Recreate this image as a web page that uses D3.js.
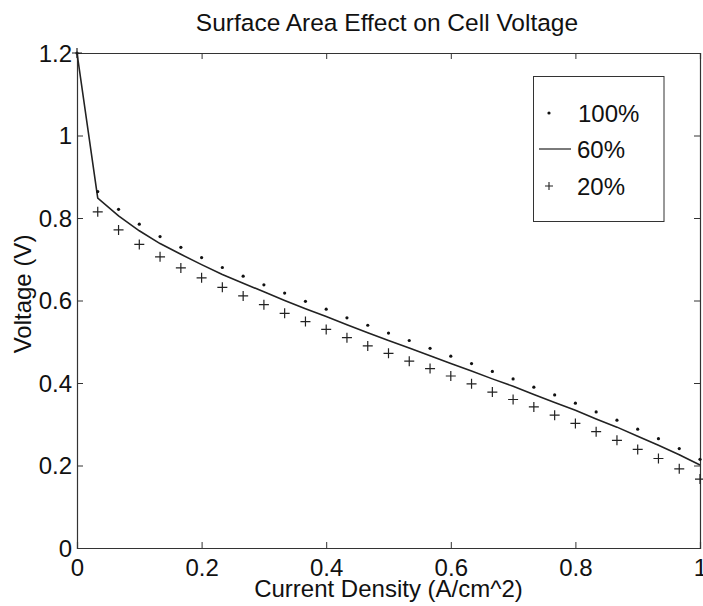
<!DOCTYPE html>
<html>
<head>
<meta charset="utf-8">
<script src="https://cdn.jsdelivr.net/npm/d3@7"></script>
<style>
  body { margin: 0; background: #fff; }
  text { font-family: "Liberation Sans", Arial, sans-serif; fill: #111; }
</style>
</head>
<body>
<script>
// current density (A/cm^2), 31 samples
var density = [0, 0.0333, 0.0667, 0.1, 0.1333, 0.1667, 0.2, 0.2333, 0.2667, 0.3, 0.3333,
    0.3667, 0.4, 0.4333, 0.4667, 0.5, 0.5333, 0.5667, 0.6, 0.6333, 0.6667,
    0.7, 0.7333, 0.7667, 0.8, 0.8333, 0.8667, 0.9, 0.9333, 0.9667, 1];

var v100 = [1.2, 0.864, 0.821, 0.785, 0.755, 0.729, 0.704, 0.680, 0.659, 0.638, 0.618,
    0.598, 0.579, 0.558, 0.540, 0.521, 0.503, 0.484, 0.465, 0.447, 0.428,
    0.410, 0.390, 0.371, 0.351, 0.330, 0.310, 0.288, 0.265, 0.241, 0.215];

var v60 = [1.2, 0.848, 0.805, 0.769, 0.738, 0.712, 0.687, 0.663, 0.642, 0.621, 0.600,
    0.580, 0.561, 0.541, 0.522, 0.503, 0.485, 0.466, 0.447, 0.429, 0.410,
    0.392, 0.372, 0.353, 0.334, 0.313, 0.293, 0.271, 0.249, 0.226, 0.201];

var v20 = [1.2, 0.815, 0.771, 0.736, 0.706, 0.679, 0.655, 0.632, 0.611, 0.590, 0.569,
    0.549, 0.530, 0.510, 0.490, 0.472, 0.453, 0.435, 0.417, 0.398, 0.378,
    0.360, 0.342, 0.322, 0.302, 0.282, 0.261, 0.239, 0.217, 0.192, 0.167];

var xTicks = [0, 0.2, 0.4, 0.6, 0.8, 1];
var yTicks = [0, 0.2, 0.4, 0.6, 0.8, 1, 1.2];
var legendLabels = ["100%", "60%", "20%"];

var margin = {top: 53, right: 3, bottom: 58, left: 77};
var width = 703 - margin.left - margin.right;
var height = 606 - margin.top - margin.bottom;

var svgRoot = d3.select("body")
    .append("svg")
    .attr("width", 703)
    .attr("height", 606);

var svg = svgRoot.append("g")
    .attr("transform", "translate(" + margin.left + "," + margin.top + ")");

var x = d3.scaleLinear().domain([0, 1]).range([0, width]);
var y = d3.scaleLinear().domain([0, 1.2]).range([height, 0]);

var fmt = function (d) { return d3.format("")(+d.toFixed(1)); };

// bottom axis (ticks inward)
var xAxis = svg.append("g")
    .attr("transform", "translate(0," + height + ")")
    .call(d3.axisBottom(x).tickValues(xTicks).tickSize(-6).tickPadding(11).tickFormat(fmt));
// left axis
var yAxis = svg.append("g")
    .call(d3.axisLeft(y).tickValues(yTicks).tickSize(-6).tickPadding(5).tickFormat(fmt));
// top and right ticks
svg.append("g")
    .call(d3.axisTop(x).tickValues(xTicks).tickSize(-6).tickFormat(""));
svg.append("g")
    .attr("transform", "translate(" + width + ",0)")
    .call(d3.axisRight(y).tickValues(yTicks).tickSize(-6).tickFormat(""));

svg.selectAll(".domain").attr("stroke", "#333").attr("stroke-width", 1.2);
svg.selectAll(".tick line").attr("stroke", "#333");
svg.selectAll(".tick text")
    .style("font-size", "24px")
    .style("font-family", "'Liberation Sans', Arial, sans-serif")
    .attr("fill", "#111");
xAxis.selectAll(".tick text").attr("dy", "0.71em");
yAxis.selectAll(".tick text").attr("dy", "0.35em");

// 60% line
var line = d3.line()
    .x(function (d, i) { return x(density[i]); })
    .y(function (d) { return y(d); });
svg.append("path")
    .datum(v60)
    .attr("d", line)
    .attr("fill", "none")
    .attr("stroke", "#222")
    .attr("stroke-width", 1.6);

// 100% dots
svg.append("g")
    .selectAll("circle")
    .data(v100)
    .enter()
    .append("circle")
    .attr("cx", function (d, i) { return x(density[i]); })
    .attr("cy", function (d) { return y(d); })
    .attr("r", 1.6)
    .attr("fill", "#111");

// 20% plus markers
svg.append("g")
    .selectAll("path")
    .data(v20)
    .enter()
    .append("path")
    .attr("d", function (d, i) {
        var cx = x(density[i]), cy = y(d);
        return "M" + (cx - 5) + "," + cy + "H" + (cx + 5) + "M" + cx + "," + (cy - 5) + "V" + (cy + 5);
    })
    .attr("stroke", "#222")
    .attr("stroke-width", 1.2)
    .attr("fill", "none");

// title
svgRoot.append("text")
    .attr("x", 387)
    .attr("y", 30.5)
    .attr("text-anchor", "middle")
    .style("font-size", "24.5px")
    .text("Surface Area Effect on Cell Voltage");

// axis labels
svgRoot.append("text")
    .attr("x", margin.left + width / 2)
    .attr("y", 597)
    .attr("text-anchor", "middle")
    .style("font-size", "24px")
    .text("Current Density (A/cm^2)");

svgRoot.append("text")
    .attr("transform", "translate(31,294) rotate(-90)")
    .attr("text-anchor", "middle")
    .style("font-size", "24px")
    .text("Voltage (V)");

// legend
var legend = svgRoot.append("g");
legend.append("rect")
    .attr("x", 533.5)
    .attr("y", 76.5)
    .attr("width", 130.5)
    .attr("height", 145)
    .attr("fill", "#fff")
    .attr("stroke", "#333")
    .attr("stroke-width", 1);

var rowY = [113, 149, 186];
legend.append("circle")
    .attr("cx", 549).attr("cy", rowY[0]).attr("r", 1.6).attr("fill", "#111");
legend.append("line")
    .attr("x1", 539).attr("x2", 571).attr("y1", rowY[1]).attr("y2", rowY[1])
    .attr("stroke", "#222").attr("stroke-width", 1.2);
legend.append("path")
    .attr("d", "M" + 545 + "," + rowY[2] + "H" + 553 + "M" + 549 + "," + (rowY[2] - 4) + "V" + (rowY[2] + 4))
    .attr("stroke", "#222").attr("stroke-width", 1.1);

legend.selectAll("text.lbl")
    .data(legendLabels)
    .enter()
    .append("text")
    .attr("class", "lbl")
    .attr("x", function (d, i) { return i == 0 ? 578 : 577; })
    .attr("y", function (d, i) { return rowY[i] + 9; })
    .style("font-size", "24px")
    .text(function (d) { return d; });
</script>
</body>
</html>
